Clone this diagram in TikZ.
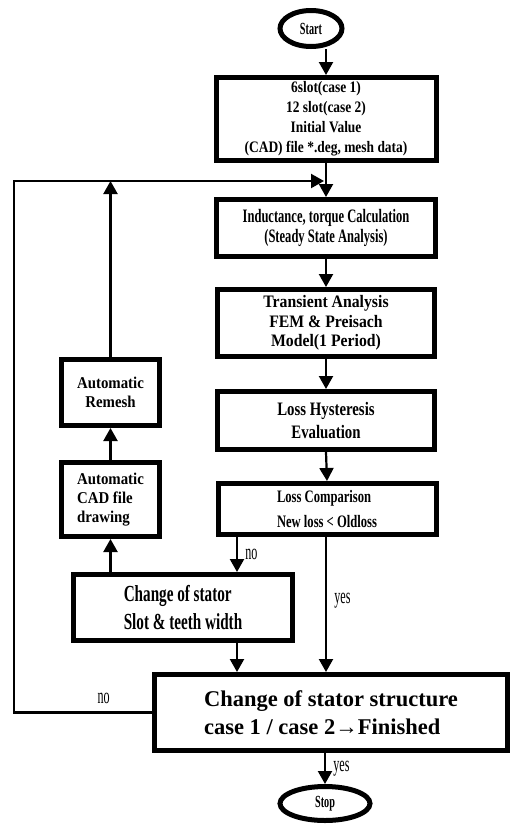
\documentclass[tikz,border=0pt]{standalone}
\usepackage{fontspec}
\setmainfont{Liberation Serif}
\newfontfamily\condZ[FakeStretch=0.55]{Liberation Serif}
\newfontfamily\condA[FakeStretch=0.60]{Liberation Serif}
\newfontfamily\condB[FakeStretch=0.66]{Liberation Serif}
\newfontfamily\condC[FakeStretch=0.72]{Liberation Serif}
\newfontfamily\condD[FakeStretch=0.78]{Liberation Serif}
\newfontfamily\condE[FakeStretch=0.84]{Liberation Serif}
\newfontfamily\condF[FakeStretch=0.90]{Liberation Serif}
\usepackage{tikz}
\usetikzlibrary{shapes.geometric, arrows.meta, positioning, calc}

\begin{document}
\begin{tikzpicture}[
            x=1pt, y=-1pt,
            box/.style={rectangle, draw, line width=5pt, inner sep=0pt, align=center},
            term/.style={ellipse, draw, line width=5pt, inner sep=0pt, font=\condA\bfseries\fontsize{17}{19}\selectfont},
            flow/.style={line width=2.2pt, -{Triangle[length=13pt, width=14pt]}},
            tag/.style={font=\condZ\fontsize{22}{24}\selectfont}
        ]
        \useasboundingbox (0,0) rectangle (510,825);

        \node[term, minimum width=62pt, minimum height=36pt] (start) at (311,28.5) {Start};
        \node[box, minimum width=220pt, minimum height=83pt, font=\condE\bfseries\fontsize{16}{20}\selectfont] (init) at (326,119)
            {6slot(case 1)\\12 slot(case 2)\\Initial Value\\(CAD) file *.deg, mesh data)};
        \node[box, minimum width=219pt, minimum height=57pt, font=\condB\bfseries\fontsize{19}{20}\selectfont] (induct) at (326,228)
            {Inductance, torque Calculation\\(Steady State Analysis)};
        \node[box, minimum width=217pt, minimum height=67pt, font=\condF\bfseries\fontsize{17.5}{19.5}\selectfont] (trans) at (326,323)
            {Transient Analysis\\FEM \& Preisach\\Model(1 Period)};
        \node[box, minimum width=217pt, minimum height=58pt, font=\condD\bfseries\fontsize{19}{23}\selectfont] (hyst) at (326,420.5)
            {Loss Hysteresis\\Evaluation};
        \node[box, minimum width=218pt, minimum height=51pt, align=left, font=\condC\bfseries\fontsize{17.5}{25}\selectfont] (comp) at (327,509)
            {Loss Comparison\\New loss < Oldloss};

        % Remesh branch
        \node[box, minimum width=98pt, minimum height=66pt, font=\condF\bfseries\fontsize{16.5}{18.5}\selectfont] (remesh) at (110.5,392.5)
            {Automatic\\Remesh};
        \node[box, minimum width=98pt, minimum height=74pt, align=left, font=\condF\bfseries\fontsize{16.5}{19}\selectfont] (cad) at (110.5,499.5)
            {Automatic\\CAD file\\drawing};
        \node[box, minimum width=219pt, minimum height=66pt, align=left, font=\condB\bfseries\fontsize{23}{28}\selectfont] (slot) at (183,607.5)
            {Change of stator\\Slot \& teeth width};

        \node[box, minimum width=353pt, minimum height=76pt, align=left, font=\bfseries\fontsize{22.5}{28}\selectfont] (big) at (331,712.5)
            {Change of stator structure\\case 1 / case 2→Finished};
        \node[term, minimum width=90pt, minimum height=34pt] (stop) at (325,803.5) {Stop};

        \coordinate (corner) at (14,181);
        \coordinate (join) at (init.south |- corner);
        \coordinate (nox) at (237,0);

        % Main flow
        \draw[flow] (start.south -| init.north) -- (init.north);
        \draw[flow] (init.south) -- (induct.north);
        \draw[flow] (induct.south) -- (trans.north);
        \draw[flow] (trans.south) -- (hyst.north);
        \draw[flow] (hyst.south) -- (comp.north);
        \draw[flow] (comp.south -| nox) -- node[tag, right=4pt] (nocomp) {no} (slot.north -| nox);
        \draw[flow] (comp.south -| init.south) -- node[tag, pos=0.47, right=4pt] (yescomp) {yes} (big.north -| init.south);
        \draw[flow] (slot.south -| nox) -- (big.north -| nox);
        \draw[flow] (big.south -| stop.north) -- node[tag, right=4pt] (yesbig) {yes} (stop.north);

        % Loop back
        \draw[flow] (slot.north -| cad.south) -- (cad.south);
        \draw[flow] (cad.north) -- (remesh.south);
        \draw[flow] (remesh.north) -- (remesh.north |- join);
        \draw[flow, shorten >=2pt] (big.west) -- node[tag, pos=0.35, above=4pt] (nobig) {no} (big.west -| corner) -- (corner) -- (join);

    \end{tikzpicture}
\end{document}
